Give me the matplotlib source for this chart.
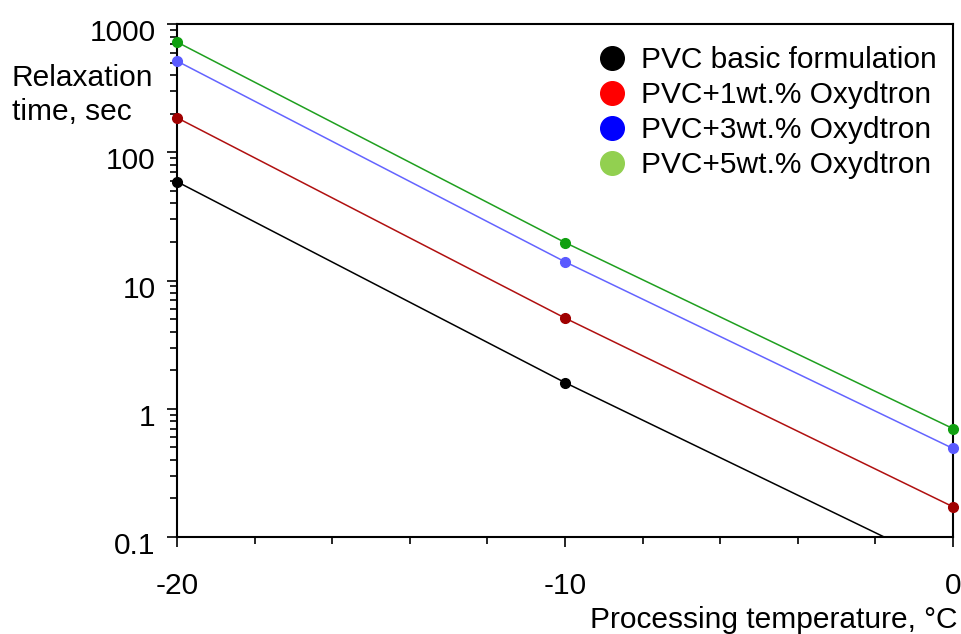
import numpy as np
import matplotlib
matplotlib.use("Agg")
import matplotlib.pyplot as plt
import matplotlib.ticker as ticker
import matplotlib.transforms as mtransforms
from matplotlib.lines import Line2D

plt.rcParams["font.family"] = ["Liberation Sans", "DejaVu Sans"]
plt.rcParams["axes.unicode_minus"] = False

# processing temperature, degC
temps = [-20, -10, 0]

labels = [
    "PVC basic formulation",
    "PVC+1wt.% Oxydtron",
    "PVC+3wt.% Oxydtron",
    "PVC+5wt.% Oxydtron",
]
# relaxation time, sec (basic formulation at 0 C lies below the axis)
basic = [59, 1.6, 0.055]
oxy1 = [186, 5.1, 0.172]
oxy3 = [515, 14, 0.49]
oxy5 = [724, 19.8, 0.70]
series = [basic, oxy1, oxy3, oxy5]

line_colors = ["#000000", "#b01010", "#6464ff", "#1f9f1f"]
marker_colors = ["#000000", "#a00000", "#5a5aff", "#10a010"]
legend_colors = ["#000000", "#ff0000", "#0000ff", "#92d050"]

fs = 21.5

fig = plt.figure(figsize=(9.61, 6.34), dpi=100)
ax = fig.add_axes([0.1842, 0.153, 0.8075, 0.809])

ymin, ymax = 0.1, 1000
for vals, lc, mc in zip(series, line_colors, marker_colors):
    vals = np.array(vals)
    ax.plot(temps, vals, color=lc, lw=1.1, zorder=2)
    vis = vals >= ymin
    ax.plot(np.array(temps)[vis], vals[vis], "o", color=mc, ms=7,
            clip_on=False, zorder=3)

ax.set_yscale("log")
ax.set_ylim(ymin, ymax)
ax.set_xlim(-20, 0)

ax.xaxis.set_major_locator(ticker.MultipleLocator(10))
ax.xaxis.set_minor_locator(ticker.MultipleLocator(2))
ax.yaxis.set_major_locator(ticker.LogLocator(base=10, numticks=10))
ax.yaxis.set_minor_locator(ticker.LogLocator(base=10, subs=np.arange(2, 10), numticks=20))
ax.yaxis.set_major_formatter(ticker.FuncFormatter(lambda v, _: f"{v:g}"))
ax.yaxis.set_minor_formatter(ticker.NullFormatter())

for s in ax.spines.values():
    s.set_linewidth(1.5)
ax.tick_params(which="both", direction="out", top=False, right=False, width=1.2)
ax.tick_params(which="major", length=7.5)
ax.tick_params(which="minor", length=5)
ax.tick_params(axis="x", which="major", labelsize=fs, pad=18)
ax.tick_params(axis="y", which="major", labelsize=fs, pad=8)

# y tick labels sit a little below their ticks
off = mtransforms.ScaledTranslation(0, -6 / 100, fig.dpi_scale_trans)
for lab in ax.get_yticklabels():
    lab.set_transform(lab.get_transform() + off)

fig.text(12 / 961, 1 - 95 / 634, "Relaxation\ntime, sec", fontsize=fs,
         ha="left", va="center", linespacing=1.25)
fig.text(958 / 961, 1 - 620 / 634, "Processing temperature, \u00b0C", fontsize=fs,
         ha="right", va="center")

handles = [Line2D([], [], ls="none", marker="o", ms=17, color=c) for c in legend_colors]
ax.legend(handles, labels, loc="upper left", bbox_to_anchor=(0.513, 1.0),
          frameon=False, fontsize=fs, handletextpad=0.45, labelspacing=0.23,
          borderaxespad=0.35, handlelength=1.0)

fig.savefig("out.png", dpi=100)
